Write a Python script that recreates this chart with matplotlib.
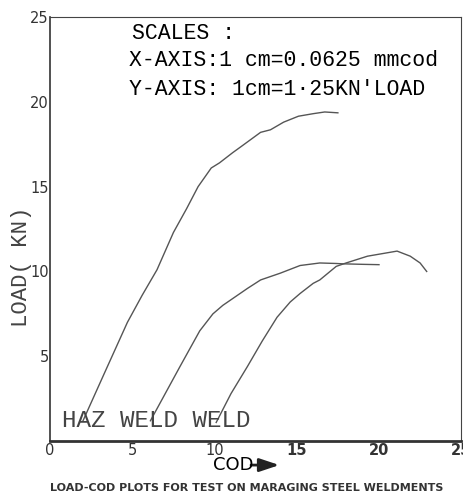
import matplotlib
matplotlib.use('Agg')
import matplotlib.pyplot as plt
import numpy as np

# COD (x) and LOAD in kN (y)
haz_cod = [2.0, 3.3, 4.7, 5.6, 6.5, 7.5, 8.3, 9.0, 9.8, 10.3, 11.1, 11.6, 12.8, 13.4, 14.2, 15.1, 16.0, 16.7, 17.5]
haz_load = [1.2, 4.0, 7.0, 8.6, 10.1, 12.3, 13.7, 15.0, 16.1, 16.4, 17.0, 17.35, 18.2, 18.35, 18.8, 19.15, 19.3, 19.4, 19.35]

weld1_cod = [6.1, 7.0, 7.9, 9.1, 9.9, 10.5, 11.1, 12.0, 12.8, 14.0, 15.2, 16.0, 16.4, 17.4, 17.8, 19.0, 20.0]
weld1_load = [1.2, 2.8, 4.4, 6.5, 7.5, 8.0, 8.4, 9.0, 9.5, 9.9, 10.35, 10.45, 10.5, 10.47, 10.45, 10.42, 10.4]

weld2_cod = [10.1, 11.0, 12.0, 12.9, 13.8, 14.6, 15.2, 16.0, 16.4, 17.4, 18.0, 19.3, 20.2, 21.1, 21.9, 22.5, 22.9]
weld2_load = [1.1, 2.8, 4.4, 5.9, 7.3, 8.2, 8.7, 9.3, 9.5, 10.3, 10.5, 10.9, 11.05, 11.2, 10.9, 10.5, 10.0]

xticks = [0, 5, 10, 15, 20, 25]
yticks = [5, 10, 15, 20, 25]

mono = 'Liberation Mono'
ink = '#555555'

fig = plt.figure(figsize=(4.64, 4.99), dpi=100)
ax = fig.add_axes([0.108, 0.116, 0.886, 0.850])

ax.plot(haz_cod, haz_load, color=ink, lw=1.0)
ax.plot(weld1_cod, weld1_load, color=ink, lw=1.0)
ax.plot(weld2_cod, weld2_load, color=ink, lw=1.0)

ax.set_xlim(0, 25)
ax.set_ylim(0, 25)
ax.set_xticks(xticks)
ax.set_yticks(yticks)
ax.tick_params(length=0, labelsize=10.5, colors='#333333', pad=1)
for lab in ax.get_xticklabels()[3:]:
    lab.set_fontweight('bold')

for side in ['top', 'right']:
    ax.spines[side].set_linewidth(0.8)
    ax.spines[side].set_color('#444444')
ax.spines['left'].set_linewidth(1.2)
ax.spines['bottom'].set_linewidth(2.0)
ax.spines['left'].set_color('#333333')
ax.spines['bottom'].set_color('#333333')

# scale notes
ax.text(0.198, 0.962, 'SCALES :', transform=ax.transAxes, family=mono,
        fontsize=15.5, va='center', ha='left')
ax.text(0.193, 0.898, 'X-AXIS:1 cm=0.0625 mmcod', transform=ax.transAxes,
        family=mono, fontsize=15.5, va='center', ha='left')
ax.text(0.193, 0.829, 'Y-AXIS: 1cm=1·25KN\'LOAD', transform=ax.transAxes,
        family=mono, fontsize=15.5, va='center', ha='left')

ax.text(0.028, 0.022, 'HAZ WELD WELD', transform=ax.transAxes, family=mono,
        fontsize=17.5, color='#444444', va='bottom', ha='left')

ax.set_ylabel('LOAD( KN)', family=mono, fontsize=16, color='#444444')
ax.yaxis.set_label_coords(-0.045, 0.41)

fig.text(0.458, 0.068, 'COD', fontsize=13, ha='left', va='center')
ax.annotate('', xy=(0.608, 0.068), xytext=(0.535, 0.068), xycoords='figure fraction',
            arrowprops=dict(arrowstyle='-|>,head_length=1.2,head_width=0.4',
                            color='#222222', lw=2))

fig.text(0.108, 0.012, 'LOAD-COD PLOTS FOR TEST ON MARAGING STEEL WELDMENTS',
         fontsize=8, fontweight='bold', ha='left', va='bottom', color='#333333')

fig.savefig('out.png', dpi=100)
